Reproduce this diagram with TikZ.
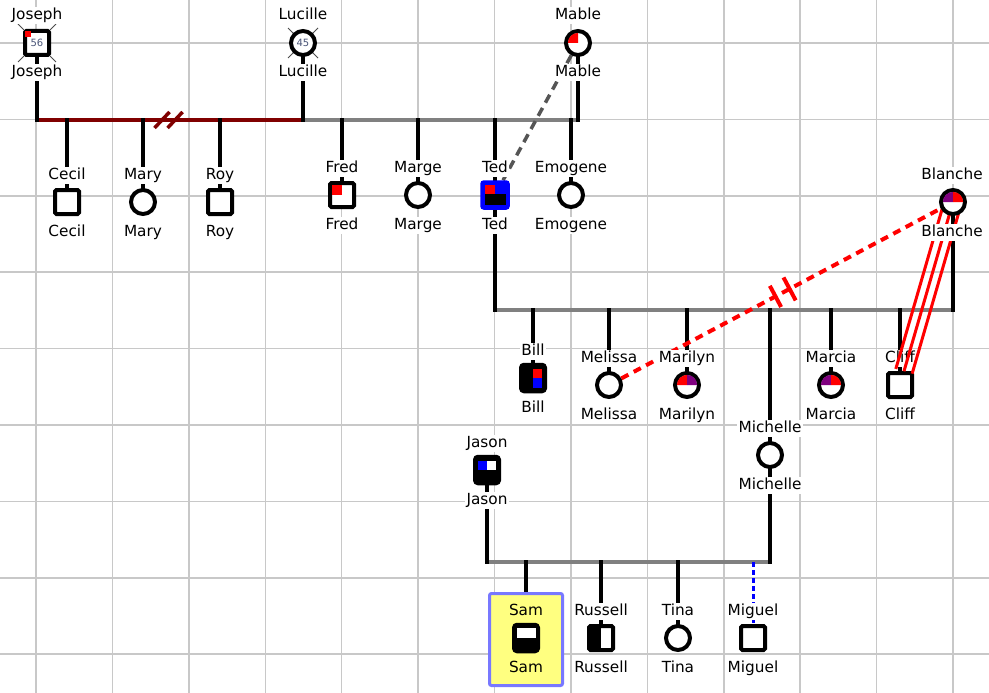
\documentclass[tikz,border=0pt]{standalone}
\usepackage{fontspec}
\setmainfont{DejaVu Sans}
\usetikzlibrary{calc}
\pgfdeclarelayer{gridl}
\pgfdeclarelayer{linel}
\pgfdeclarelayer{redl}
\pgfdeclarelayer{front}
\pgfsetlayers{gridl,linel,main,redl,front}
\definecolor{gridc}{HTML}{C8C8C8}
\definecolor{maroonc}{HTML}{800000}
\definecolor{marrc}{HTML}{808080}
\definecolor{purp}{HTML}{800080}
\definecolor{hlfill}{HTML}{FFFF80}
\definecolor{hlborder}{HTML}{7878FF}
\definecolor{agec}{HTML}{4A5578}
\definecolor{dashg}{HTML}{555555}
\newcommand{\agefont}{\fontsize{10}{10}\selectfont}
% quarter of the inner disc of a circle symbol: node, colour, start angle (y axis points down)
\newcommand{\gpie}[3]{\fill[#2] (#1.center) -- ++(#3:10.1) arc[start angle=#3, end angle=#3+90, radius=10.1] -- cycle;}
\begin{document}
\begin{tikzpicture}[x=1pt,y=-1pt,
  sym/.style={draw=black, line width=4pt, fill=white, minimum size=24pt, inner sep=0pt},
  sq/.style={sym, rectangle, rounded corners=1.5pt},
  ci/.style={sym, circle},
  tall/.style={sym, rectangle, rounded corners=3pt, minimum width=24pt, minimum height=26.5pt, fill=black},
  lbl/.style={font=\fontsize{15.3}{17}\selectfont, text=black, fill=white, inner sep=1.5pt, text height=11pt, text depth=3pt},
  vline/.style={line width=4pt, black, line cap=rect},
  marr/.style={line width=4.5pt, line cap=butt},
  xmark/.style={line width=1pt, black!70},
  divmark/.style={line width=3.5pt}
]
\useasboundingbox (0,0) rectangle (989,693);
\begin{pgfonlayer}{gridl}
  \fill[white] (0,0) rectangle (989,693);
  \foreach \k in {0,...,12} \draw[gridc, line width=1.5pt] ({36+76.42*\k},0) -- ({36+76.42*\k},693);
  \foreach \k in {0,...,8} \draw[gridc, line width=1.5pt] (0,{43+76.4*\k}) -- (989,{43+76.4*\k});
\end{pgfonlayer}

% ---------- generation 1
\node[sq, font=\agefont, text=agec] (joseph) at (37,43) {56};
\fill[red] ([shift={(-12,-12)}]joseph.center) rectangle ++(6,6);
\node[lbl] (josephT) at (37,16) {Joseph};
\node[lbl] (josephB) at (37,73) {Joseph};
\node[ci, font=\agefont, text=agec] (lucille) at (303,43) {45};
\node[lbl] (lucilleT) at (303,16) {Lucille};
\node[lbl] (lucilleB) at (303,73) {Lucille};
\node[ci] (mable) at (578,43) {};
\gpie{mable}{red}{180}
\node[lbl] (mableT) at (578,16) {Mable};
\node[lbl] (mableB) at (578,73) {Mable};

% ---------- generation 2
\node[sq] (cecil) at (67,202) {};
\node[lbl] (cecilT) at (67,175) {Cecil};
\node[lbl] (cecilB) at (67,232) {Cecil};
\node[ci] (mary) at (143,202) {};
\node[lbl] (maryT) at (143,175) {Mary};
\node[lbl] (maryB) at (143,232) {Mary};
\node[sq] (roy) at (220,202) {};
\node[lbl] (royT) at (220,175) {Roy};
\node[lbl] (royB) at (220,232) {Roy};
\node[sq] (fred) at (342,195) {};
\fill[red] ([shift={(-10,-10)}]fred.center) rectangle (fred.center);
\node[lbl] (fredT) at (342,168) {Fred};
\node[lbl] (fredB) at (342,225) {Fred};
\node[ci] (marge) at (418,195) {};
\node[lbl] (margeT) at (418,168) {Marge};
\node[lbl] (margeB) at (418,225) {Marge};
\node[sym, rectangle, rounded corners=2pt, minimum size=26pt, line width=3.5pt, draw=blue, fill=blue] (ted) at (495,195) {};
\fill[red] ([shift={(-10.5,-10.5)}]ted.center) rectangle ++(10.5,9);
\fill[black] ([shift={(-10.5,-1.5)}]ted.center) rectangle ++(21,11);
\node[lbl] (tedT) at (495,168) {Ted};
\node[lbl] (tedB) at (495,225) {Ted};
\node[ci] (emogene) at (571,195) {};
\node[lbl] (emogeneT) at (571,168) {Emogene};
\node[lbl] (emogeneB) at (571,225) {Emogene};
\begin{pgfonlayer}{front}
\node[ci] (blanche) at (953,202) {};
\gpie{blanche}{purp}{180}
\gpie{blanche}{red}{270}
\node[lbl] (blancheT) at (952,175) {Blanche};
\node[lbl] (blancheB) at (952,232) {Blanche};
\end{pgfonlayer}

% ---------- generation 3
\node[tall] (bill) at (533,378) {};
\fill[red] ([shift={(0,-9)}]bill.center) rectangle ++(8.5,9);
\fill[blue] (bill.center) rectangle ++(8.5,10);
\node[lbl] (billT) at (533,351) {Bill};
\node[lbl] (billB) at (533,408) {Bill};
\node[ci] (melissa) at (609,385) {};
\node[lbl] (melissaT) at (609,358) {Melissa};
\node[lbl] (melissaB) at (609,415) {Melissa};
\node[ci] (marilyn) at (687,385) {};
\gpie{marilyn}{red}{180}
\gpie{marilyn}{purp}{270}
\node[lbl] (marilynT) at (687,358) {Marilyn};
\node[lbl] (marilynB) at (687,415) {Marilyn};
\node[ci] (marcia) at (831,385) {};
\gpie{marcia}{purp}{180}
\gpie{marcia}{red}{270}
\node[lbl] (marciaT) at (831,358) {Marcia};
\node[lbl] (marciaB) at (831,415) {Marcia};
\node[sq] (cliff) at (900,385) {};
\node[lbl] (cliffT) at (900,358) {Cliff};
\node[lbl] (cliffB) at (900,415) {Cliff};
\node[ci] (michelle) at (770,455) {};
\node[lbl] (michelleT) at (770,428) {Michelle};
\node[lbl] (michelleB) at (770,485) {Michelle};
\node[tall] (jason) at (487,470) {};
\fill[blue] ([shift={(-9,-9.5)}]jason.center) rectangle ++(9,9);
\fill[white] ([shift={(0,-9.5)}]jason.center) rectangle ++(9,9);
\node[lbl] (jasonT) at (487,443) {Jason};
\node[lbl] (jasonB) at (487,500) {Jason};

% ---------- generation 4
\node[draw=hlborder, line width=3pt, fill=hlfill, rounded corners=2pt, minimum width=73pt, minimum height=92pt, inner sep=0pt] (samhl) at (526,639.5) {};
\node[tall] (sam) at (526,638) {};
\fill[white] ([shift={(-9.5,-10)}]sam.center) rectangle ++(19,10);
\node[lbl, fill=hlfill] (samT) at (526,611) {Sam};
\node[lbl, fill=hlfill] (samB) at (526,668) {Sam};
\node[sq] (russell) at (601,638) {};
\fill[black] ([shift={(-12,-12)}]russell.center) rectangle ++(12,24);
\node[lbl] (russellT) at (601,611) {Russell};
\node[lbl] (russellB) at (601,668) {Russell};
\node[ci] (tina) at (678,638) {};
\node[lbl] (tinaT) at (678,611) {Tina};
\node[lbl] (tinaB) at (678,668) {Tina};
\node[sq] (miguel) at (753,638) {};
\node[lbl] (miguelT) at (753,611) {Miguel};
\node[lbl] (miguelB) at (753,668) {Miguel};

% ---------- union line end points
\coordinate (m1a) at (37,120);
\coordinate (m1b) at (303,120);
\coordinate (m2b) at (578,120);
\coordinate (m3a) at (495,310);
\coordinate (m3b) at (953,310);
\coordinate (m4a) at (487,562);
\coordinate (m4b) at (770,562);

\begin{pgfonlayer}{linel}
  % deceased crosses
  \draw[xmark] ([shift={(-19,-19)}]joseph.center) -- ([shift={(19,19)}]joseph.center);
  \draw[xmark] ([shift={(19,-19)}]joseph.center) -- ([shift={(-19,19)}]joseph.center);
  \draw[xmark] ([shift={(-15,-15)}]lucille.center) -- ([shift={(15,15)}]lucille.center);
  \draw[xmark] ([shift={(15,-15)}]lucille.center) -- ([shift={(-15,15)}]lucille.center);
  % unions
  \draw[marr, maroonc] (m1a) -- (m1b);
  \draw[marr, marrc] (m1b) -- (m2b);
  \draw[marr, marrc] (m3a) -- (m3b);
  \draw[marr, marrc] (m4a) -- (m4b);
  % divorce marks
  \coordinate (dv1) at ($(m1a)!0.47!(m1b)$);
  \coordinate (dv2) at ($(m1a)!0.519!(m1b)$);
  \draw[divmark, maroonc] ([shift={(-7.5,8)}]dv1) -- ([shift={(7.5,-8)}]dv1);
  \draw[divmark, maroonc] ([shift={(-7.5,8)}]dv2) -- ([shift={(7.5,-8)}]dv2);
  % partners to union lines
  \draw[vline] (joseph.center) -- (m1a);
  \draw[vline] (lucille.center) -- (m1b);
  \draw[vline] (mable.center) -- (m2b);
  \draw[vline] (ted.center) -- (m3a);
  \draw[vline] (blanche.center) -- (m3b);
  \draw[vline] (jason.center) -- (m4a);
  \draw[vline] (michelle.center) -- (m4b);
  % children
  \foreach \c in {cecil,mary,roy,fred,marge,ted,emogene} \draw[vline] (\c.center) -- (\c.center |- m1a);
  \foreach \c in {bill,melissa,marilyn,michelle,marcia,cliff} \draw[vline] (\c.center) -- (\c.center |- m3a);
  \foreach \c in {sam,russell,tina} \draw[vline] (\c.center) -- (\c.center |- m4a);
  \draw[blue, line width=3pt, dash pattern=on 5pt off 3pt] (miguel.center |- m4a) -- (miguel.center);
  % relationships
  \draw[dashg, line width=3.5pt, dash pattern=on 9pt off 6pt] (mable) -- (ted);
  \draw[red, line width=4pt, dash pattern=on 8pt off 6pt] (melissa) -- (blanche);
  \coordinate (cut1) at ($(melissa.center)!0.484!(blanche.center)$);
  \coordinate (cut2) at ($(melissa.center)!0.525!(blanche.center)$);
  \draw[red, line width=4pt] ($(cut1)!12pt!90:(blanche.center)$) -- ($(cut1)!12pt!-90:(blanche.center)$);
  \draw[red, line width=4pt] ($(cut2)!13pt!90:(blanche.center)$) -- ($(cut2)!13pt!-90:(blanche.center)$);
\end{pgfonlayer}

\begin{pgfonlayer}{redl}
  \coordinate (cliffEnd) at ($(blanche.center)!0.925!(cliff.center)$);
  \foreach \o in {-8.5,0,8.5} {
    \draw[red, line width=3pt]
      ($(blanche.center)!\o pt!90:(cliff.center)$) --
      ($(cliffEnd)!\o pt!90:(cliff.center)$);
  }
\end{pgfonlayer}
\end{tikzpicture}
\end{document}
